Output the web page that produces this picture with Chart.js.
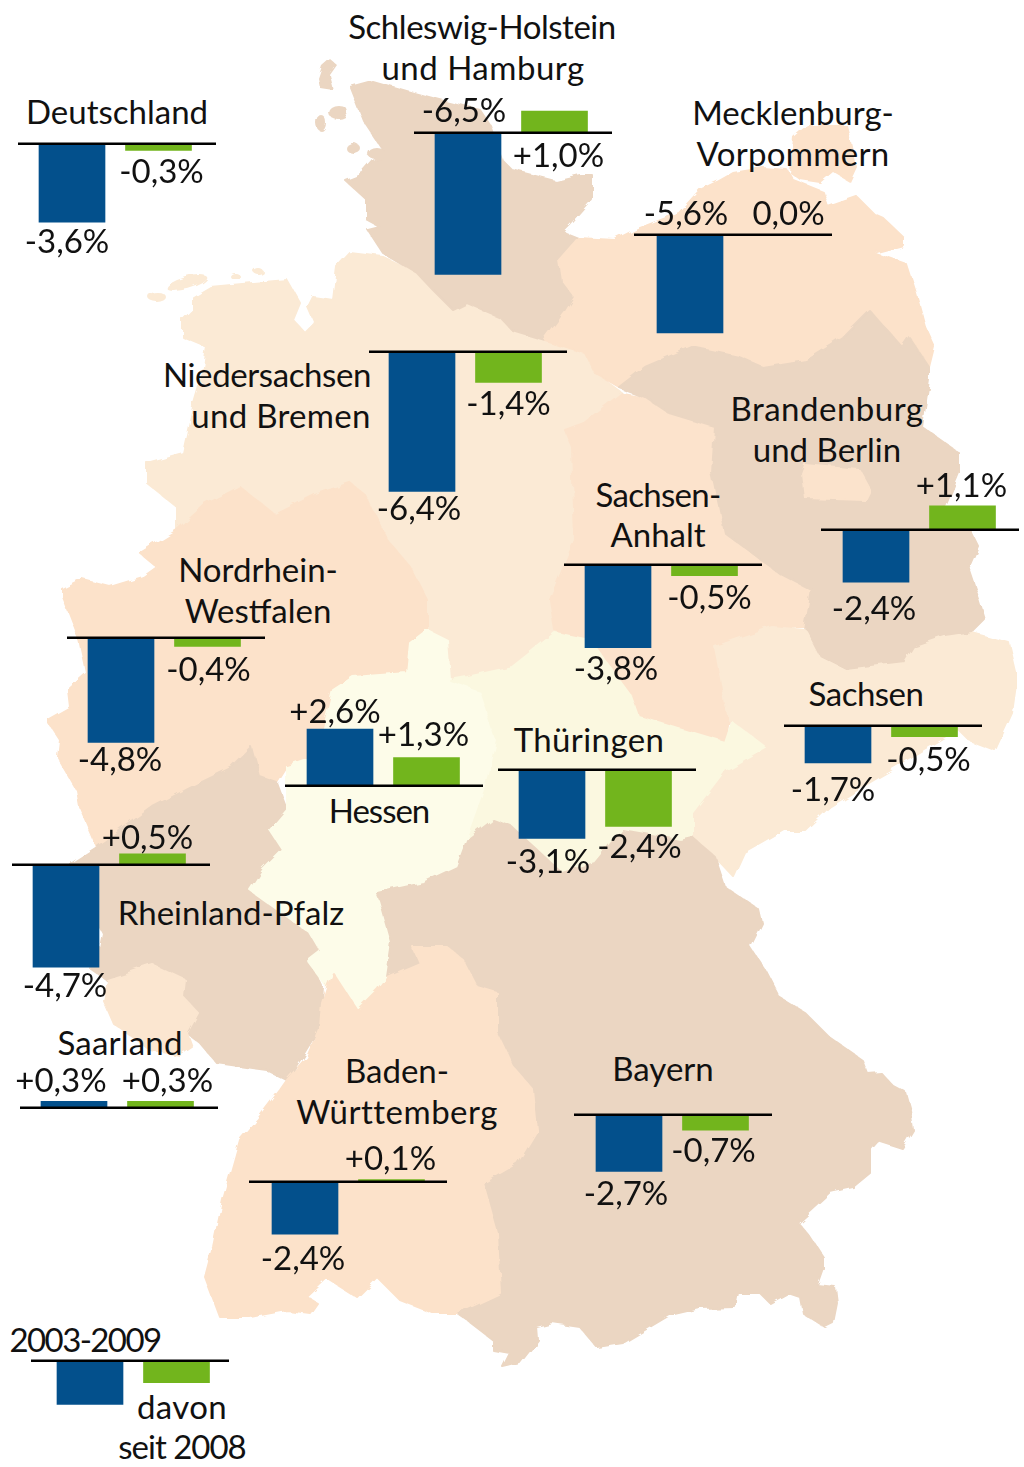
<!DOCTYPE html>
<html lang="de">
<head>
<meta charset="utf-8">
<title>Deutschland 2003-2009</title>
<script src="https://cdn.jsdelivr.net/npm/chart.js@4"></script>
<style>
    html, body { margin: 0; background: #fff; }
    #page { position: relative; width: 1024px; height: 1467px; overflow: hidden; }
    #map { position: absolute; left: 0; top: 0; }
    canvas { position: absolute; }
    .name {
        position: absolute;
        transform: translate(-50%, -50%);
        margin-top: -1px;
        font: 33px Lato, sans-serif;
        line-height: 1;
        color: #111;
        white-space: nowrap;
    }
</style>
</head>
<body>
<div id="page">
<svg id="map" width="1024" height="1467" stroke-width="2" stroke-linejoin="round">
  <defs>
    <filter id="rough" x="0" y="0" width="100%" height="100%">
      <feTurbulence type="fractalNoise" baseFrequency="0.07" numOctaves="2" seed="3" result="n"/>
      <feDisplacementMap in="SourceGraphic" in2="n" scale="7"/>
    </filter>
  </defs>
  <g filter="url(#rough)">
    <!-- Niedersachsen -->
    <polygon fill="#fbead5" stroke="#fbead5" points="337,267 350,253 383,257 417,273 433,290 453,310 467,303 500,317 512,330 545,340 585,353 595,373 622,393 640,430 620,630 520,710 440,710 427,630 400,600 200,560 177,530 177,507 147,483 147,463 183,453 193,407 203,373 207,347 183,337 183,320 193,310 193,297 210,287 253,283 287,280 300,303 293,320 305,333 315,323 308,307 313,297 333,300"/>
    <ellipse cx="157" cy="297" rx="9" ry="5" fill="#fbead5"/>
    <ellipse cx="187" cy="283" rx="21" ry="6" fill="#fbead5" transform="rotate(-15 187 283)"/>
    <ellipse cx="234" cy="275" rx="5" ry="3" fill="#fbead5"/>
    <ellipse cx="258" cy="271" rx="5" ry="3" fill="#fbead5"/>
    <!-- Schleswig-Holstein -->
    <polygon fill="#ebd6c2" stroke="#ebd6c2" points="350,87 372,81 410,92 440,100 480,110 490,125 502,160 512,170 555,181 580,175 592,175 592,200 570,225 563,232 578,238 574,243 559,260 562,280 575,297 565,313 545,340 512,330 500,317 467,303 453,310 433,290 417,273 383,253 368,230 380,227 367,220 367,200 345,180 363,173 383,150 363,120"/>
    <polygon fill="#ebd6c2" points="330,59 336,64 329,74 333,90 320,88 318,78 322,66"/>
    <ellipse cx="338" cy="112" rx="10" ry="7" fill="#ebd6c2"/>
    <ellipse cx="322" cy="124" rx="5" ry="8" fill="#ebd6c2"/>
    <ellipse cx="352" cy="147" rx="7" ry="5" fill="#ebd6c2"/>
    <ellipse cx="376" cy="153" rx="9" ry="6" fill="#ebd6c2"/>
    <!-- Mecklenburg-Vorpommern -->
    <polygon fill="#fce2ca" stroke="#fce2ca" points="574,243 578,238 615,240 635,230 679,213 700,190 717,182 733,173 763,168 787,170 793,180 813,188 823,192 828,207 857,197 873,213 882,217 903,237 903,245 873,253 907,265 915,290 925,327 934,347 929,367 909,337 902,347 869,310 842,337 805,360 762,367 739,357 692,347 645,367 619,387 595,373 585,353 545,340 565,313 575,297 562,280 559,260"/>
    <polygon fill="#fce2ca" points="790,173 793,137 807,125 847,125 857,167 850,182 833,172 820,183 800,180"/>
    <!-- Nordrhein-Westfalen -->
    <polygon fill="#fce2ca" stroke="#fce2ca" points="177,530 205,505 240,487 275,515 315,495 350,483 365,495 387,540 410,567 427,600 427,630 410,643 407,673 353,677 333,690 317,757 287,767 277,783 260,777 252,748 233,767 200,783 153,807 97,847 80,807 77,790 58,757 60,740 47,720 70,707 68,690 87,673 80,640 77,633 63,597 63,590 83,580 110,587 143,577 157,567 140,553"/>
    <!-- Rheinland-Pfalz -->
    <polygon fill="#ebd6c2" stroke="#ebd6c2" points="252,748 260,777 277,783 287,810 270,830 283,850 263,870 250,890 310,933 320,950 310,960 323,987 320,1027 300,1060 287,1080 267,1070 217,1063 200,1043 187,1033 107,980 90,968 98,957 103,933 85,900 72,880 72,863 97,847 153,807 200,783 233,767"/>
    <!-- Saarland -->
    <polygon fill="#fbe6d0" stroke="#fbe6d0" points="107,980 153,965 185,980 183,997 198,1013 187,1033 192,1047 180,1055 150,1050 130,1035 113,1023 103,1000"/>
    <!-- Sachsen-Anhalt -->
    <polygon fill="#fce3cc" stroke="#fce3cc" points="622,393 645,397 669,413 715,427 712,473 725,533 779,573 812,590 805,627 772,627 715,647 729,720 725,743 639,717 632,697 590,640 555,630 550,600 575,540 572,447 565,430 584,423"/>
    <!-- Brandenburg -->
    <polygon fill="#ebd6c2" stroke="#ebd6c2" points="645,367 692,347 739,357 762,367 805,360 842,337 869,310 902,347 909,337 929,367 929,380 922,427 959,453 959,473 945,507 972,533 979,547 969,570 979,600 985,620 972,633 945,637 915,647 905,663 845,670 819,657 805,630 812,590 779,573 725,533 712,473 715,427 669,413 645,397 619,387"/>
    <polygon fill="#fbe3cc" stroke="#fbe3cc" points="805,465 859,470 870,490 865,500 805,498 802,473"/>
    <!-- Sachsen -->
    <polygon fill="#fbead5" stroke="#fbead5" points="715,647 772,627 805,630 819,657 845,670 905,663 915,647 945,637 972,633 1009,643 1017,677 1012,713 995,750 969,740 959,730 879,777 829,807 805,830 785,830 745,853 734,877 715,857 692,837 692,813 725,770 765,747 732,722 729,720"/>
    <!-- Hessen -->
    <polygon fill="#fdfce9" stroke="#fdfce9" points="427,630 447,640 450,680 480,690 497,740 485,790 467,840 457,867 423,883 377,893 380,900 392,943 387,977 377,990 357,1010 333,973 327,987 307,960 320,950 310,933 250,890 263,870 283,850 270,830 287,810 287,767 317,757 333,690 353,677 407,673 410,643"/>
    <!-- Thueringen -->
    <polygon fill="#fbf8e0" stroke="#fbf8e0" points="450,680 467,677 512,667 555,633 590,640 632,697 639,717 725,743 732,722 765,747 725,770 692,813 692,837 679,840 622,830 595,863 562,873 512,827 493,820 467,840 485,790 497,740 480,690"/>
    <!-- Bayern -->
    <polygon fill="#ebd6c2" stroke="#ebd6c2" points="512,827 562,873 595,863 622,830 679,840 692,837 715,857 725,887 759,910 762,923 750,947 765,970 779,997 805,1013 829,1037 862,1060 867,1073 880,1072 892,1085 905,1092 910,1110 913,1130 902,1148 877,1140 870,1148 870,1173 853,1187 830,1192 797,1222 810,1237 823,1257 823,1268 817,1285 835,1287 837,1303 833,1323 825,1327 803,1313 800,1297 788,1293 770,1303 760,1293 738,1293 735,1307 700,1308 670,1315 623,1343 597,1347 580,1327 553,1323 537,1327 538,1340 520,1363 503,1367 510,1353 493,1350 493,1340 467,1320 457,1313 500,1293 497,1233 483,1183 517,1163 537,1130 533,1090 513,1067 497,1033 497,993 477,987 463,960 447,947 413,947 420,963 387,977 392,943 380,900 377,893 423,883 457,867 467,840 493,820"/>
    <!-- Baden-Wuerttemberg -->
    <polygon fill="#fce2ca" stroke="#fce2ca" points="447,947 413,947 420,963 387,977 377,990 357,1010 333,973 327,987 322,1003 320,1027 307,1057 287,1080 280,1090 257,1120 240,1140 223,1200 213,1247 205,1277 220,1317 250,1317 287,1310 310,1313 317,1303 307,1297 327,1278 357,1297 377,1277 400,1300 433,1313 457,1313 500,1293 497,1233 483,1183 517,1163 537,1130 533,1090 513,1067 497,1033 497,993 477,987 463,960"/>
  </g>
</svg>
</div>

<script>
'use strict';

let regions = ['Deutschland', 'Schleswig-Holstein und Hamburg', 'Mecklenburg-Vorpommern', 'Niedersachsen und Bremen',
    'Brandenburg und Berlin', 'Sachsen-Anhalt', 'Nordrhein-Westfalen', 'Sachsen', 'Hessen', 'Thüringen',
    'Rheinland-Pfalz', 'Saarland', 'Baden-Württemberg', 'Bayern', 'Legende'];
let periods = ['2003-2009', 'davon seit 2008'];
// bar lengths as drawn in the picture, a few differ from the printed label (MV -5,6% is drawn about -4,5)
let total = [-3.6, -6.5, -4.5, -6.4, -2.4, -3.8, -4.8, -1.7, 2.6, -3.15, -4.7, 0.3, -2.4, -2.6, -2.0];
let recent = [-0.3, 1.0, 0.0, -1.4, 1.1, -0.5, -0.4, -0.5, 1.3, -2.6, 0.5, 0.3, 0.1, -0.7, -1.0];
// printed labels, the legend has none
let totalText = ['-3,6%', '-6,5%', '-5,6%', '-6,4%', '-2,4%', '-3,8%', '-4,8%', '-1,7%', '+2,6%', '-3,1%', '-4,7%', '+0,3%', '-2,4%', '-2,7%', ''];
let recentText = ['-0,3%', '+1,0%', '0,0%', '-1,4%', '+1,1%', '-0,5%', '-0,4%', '-0,5%', '+1,3%', '-2,4%', '+0,5%', '+0,3%', '+0,1%', '-0,7%', ''];

// layout of the small panels, one entry per region
let lineLeft = [18, 414, 634, 369, 821, 564, 67, 784, 285, 498, 12, 20, 249, 574, 31];
let lineY = [144, 133, 235, 352, 530, 565, 638, 726, 786, 770, 865, 1108, 1182, 1115, 1361];
let barLeft = [21, 21, 23, 20, 22, 21, 21, 21, 22, 21, 21, 21, 23, 22, 26];
let totalDx = [-5, -4, -4, -3, -2, -2, -1, -5, -5, -4, -1, -13, -2, -3, 0];
let recentDx = [3, 4, 12, 0, -1, 5, 1, 4, -3, 1, -5, 7, -1, -2, 0];
let totalDy = [-1, 1, 2, -3, 6, 1, -3, 6, 4, 3, -2, 1, 4, 2, 0];
let recentDy = [1, 2, 1, 1, 2, 2, 3, 3, -1, 0, 5, 1, 1, 0, 0];
let totalAcross = [1, 2];
let recentAcross = [1];

// text lines: [text, centre x, centre y, letter spacing]
let names = [
    ['Deutschland', 117, 112, 0],
    ['Schleswig-Holstein', 482, 27, -0.45], ['und Hamburg', 483, 68, 0.5],
    ['Mecklenburg-', 793, 113, 0], ['Vorpommern', 793, 154, 0.3],
    ['Niedersachsen', 267, 375, -0.4], ['und Bremen', 281, 416, 0.3],
    ['Brandenburg', 827, 409, 0.5], ['und Berlin', 827, 450, 0],
    ['Sachsen-', 658, 495, -0.7], ['Anhalt', 658, 535, 0],
    ['Nordrhein-', 258, 570, 0], ['Westfalen', 258, 611, 0],
    ['Sachsen', 866, 694, -0.5],
    ['Hessen', 379, 811, -1],
    ['Thüringen', 589, 740, 0.4],
    ['Rheinland-Pfalz', 231, 913, 0],
    ['Saarland', 120, 1043, 0.2],
    ['Baden-', 397, 1071, 0], ['Württemberg', 397, 1112, 0.5],
    ['Bayern', 663, 1069, 0],
    ['2003-2009', 85, 1340, -1.6], ['davon', 182, 1407, 0.4], ['seit 2008', 182, 1447, -1]
];

let page = document.getElementById('page');
let margin = 24;
let panelW = 198 + margin * 2;
let panelH = 327;
let yMin = -9;
let yMax = 6;
let catW = 86.5;

for (let i = 0; i < names.length; i++) {
    let div = document.createElement('div');
    div.className = 'name';
    div.textContent = names[i][0];
    div.style.left = names[i][1] + 'px';
    div.style.top = names[i][2] + 'px';
    div.style.letterSpacing = names[i][3] + 'px';
    page.appendChild(div);
}

// baseline and value labels
let panelPlugin = {
    id: 'panelPlugin',
    afterDatasetsDraw(chart) {
        let ctx = chart.ctx;
        let zero = chart.scales.y.getPixelForValue(0);
        ctx.save();
        ctx.strokeStyle = '#000';
        ctx.lineWidth = 2.5;
        ctx.beginPath();
        ctx.moveTo(margin, zero);
        ctx.lineTo(margin + 198, zero);
        ctx.stroke();

        let idx = chart.options.plugins.panelPlugin.index;
        ctx.fillStyle = '#111';
        ctx.font = '33px Lato, sans-serif';
        ctx.textAlign = 'center';
        ctx.textBaseline = 'middle';
        let bars = chart.getDatasetMeta(0).data;
        let values = [total[idx], recent[idx]];
        let texts = [totalText[idx], recentText[idx]];
        let dx = [totalDx[idx], recentDx[idx]];
        let dy = [totalDy[idx], recentDy[idx]];
        let across = [totalAcross.includes(idx), recentAcross.includes(idx)];
        for (let j = 0; j < 2; j++) {
            if (!texts[j]) continue;
            let up = values[j] >= 0;
            let y;
            if (across[j]) {
                y = up ? zero + 22 : zero - 22;
            } else {
                y = up ? bars[j].y - 21 : bars[j].y + 21;
            }
            ctx.fillText(texts[j], bars[j].x + dx[j], y + dy[j]);
        }
        ctx.restore();
    }
};

function drawPanel(i) {
    let canvas = document.createElement('canvas');
    canvas.width = panelW;
    canvas.height = panelH;
    canvas.style.left = (lineLeft[i] - margin) + 'px';
    canvas.style.top = (lineY[i] - Math.round(panelH * yMax / (yMax - yMin))) + 'px';
    page.appendChild(canvas);

    // first bar centre sits at padLeft + catW / 2
    let padLeft = margin + barLeft[i] + 33 - catW / 2;
    new Chart(canvas, {
        type: 'bar',
        data: {
            labels: periods,
            datasets: [{
                label: regions[i],
                data: [total[i], recent[i]],
                backgroundColor: ['#03508c', '#72b51d'],
                barThickness: 66
            }]
        },
        options: {
            responsive: false,
            animation: false,
            layout: { padding: { left: padLeft, right: panelW - padLeft - catW * 2 } },
            plugins: {
                legend: { display: false },
                tooltip: { enabled: false },
                panelPlugin: { index: i }
            },
            scales: {
                x: { display: false },
                y: { display: false, min: yMin, max: yMax }
            }
        },
        plugins: [panelPlugin]
    });
}

for (let i = 0; i < regions.length; i++) {
    drawPanel(i);
}
</script>
</body>
</html>
